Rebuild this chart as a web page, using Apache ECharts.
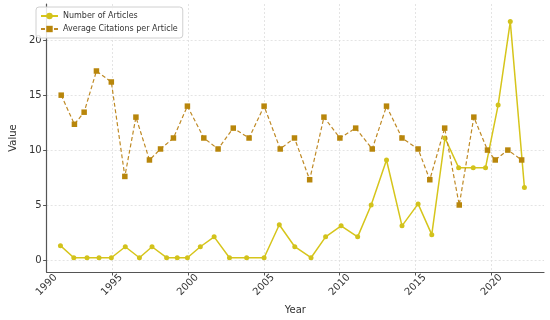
<!DOCTYPE html>
<html>
<head>
<meta charset="utf-8">
<script src="https://cdn.jsdelivr.net/npm/echarts@6/dist/echarts.min.js"></script>
<style>
  html, body { margin: 0; padding: 0; background: #fff; }
  #chart { width: 550px; height: 320px; }
</style>
</head>
<body>
<div id="chart"></div>
<script>
// ---- data ----
const articleYears = [1991.61, 1992.49, 1993.36, 1994.15, 1994.96, 1995.88, 1996.81, 1997.64, 1998.60, 1999.30,
  1999.97, 2000.82, 2001.73, 2002.74, 2003.87, 2005.02, 2006.02, 2007.04, 2008.11, 2009.07,
  2010.09, 2011.18, 2012.07, 2013.08, 2014.10, 2015.16, 2016.06, 2016.93, 2017.83, 2018.79,
  2019.60, 2020.43, 2021.23, 2022.16];
const articleCounts = [1.3, 0.2, 0.2, 0.2, 0.2, 1.2, 0.2, 1.2, 0.2, 0.2,
  0.2, 1.2, 2.1, 0.2, 0.2, 0.2, 3.2, 1.2, 0.2, 2.1,
  3.1, 2.1, 5.0, 9.1, 3.1, 5.1, 2.3, 11.1, 8.4, 8.4,
  8.4, 14.1, 21.7, 6.6];

const citationYears = [1991.66, 1992.53, 1993.17, 1993.98, 1994.96, 1995.85, 1996.58, 1997.47, 1998.20, 1999.05,
  1999.97, 2001.05, 2001.99, 2002.99, 2004.03, 2005.02, 2006.08, 2007.02, 2008.02, 2008.96,
  2010.01, 2011.05, 2012.14, 2013.08, 2014.10, 2015.16, 2015.93, 2016.91, 2017.87, 2018.83,
  2019.73, 2020.24, 2021.07, 2021.98];
const avgCitations = [15.0, 12.35, 13.45, 17.2, 16.2, 7.6, 13.0, 9.1, 10.1, 11.1,
  14.0, 11.1, 10.1, 12.0, 11.1, 14.0, 10.1, 11.1, 7.3, 13.0,
  11.1, 12.0, 10.1, 14.0, 11.1, 10.1, 7.3, 12.0, 5.0, 13.0,
  10.0, 9.1, 10.0, 9.1];

const seriesNames = ['Number of Articles', 'Average Citations per Article'];
const xTickValues = [1990, 1995, 2000, 2005, 2010, 2015, 2020];
const yTickValues = [0, 5, 10, 15, 20];
const xAxisTitle = 'Year';
const yAxisTitle = 'Value';

// ---- axis extents ----
const X_MIN = 1990.7, X_MAX = 2023.45;
const Y_MIN = -1.1, Y_MAX = 23.3;

const FONT = 'DejaVu Sans';
const chart = echarts.init(document.getElementById('chart'), null, { renderer: 'canvas' });

const zip = (xs, ys) => xs.map((x, i) => [x, ys[i]]);

chart.setOption({
  animation: false,
  backgroundColor: '#ffffff',
  textStyle: { fontFamily: FONT },
  grid: { left: 32, right: 6, top: 4, bottom: 42, containLabel: false },
  legend: {
    orient: 'vertical',
    left: 36, top: 7,
    padding: [5, 5, 5, 4],
    itemGap: 5,
    itemWidth: 17, itemHeight: 8,
    backgroundColor: 'rgba(255,255,255,0.85)',
    borderColor: '#d0d0d0', borderWidth: 1, borderRadius: 3,
    textStyle: { fontFamily: FONT, fontSize: 8, color: '#333' },
    data: seriesNames
  },
  xAxis: {
    type: 'value',
    min: X_MIN, max: X_MAX,
    name: xAxisTitle,
    nameLocation: 'middle',
    nameGap: 33,
    nameTextStyle: { fontFamily: FONT, fontSize: 10, color: '#333' },
    axisLine: { show: true, onZero: false, lineStyle: { color: '#555', width: 1.2 } },
    axisTick: { show: true, length: 3.5, lineStyle: { color: '#555' },
      customValues: xTickValues.filter(v => v >= X_MIN) },
    axisLabel: {
      customValues: xTickValues.map(v => Math.max(v, X_MIN)),
      formatter: v => String(Math.floor(v)),
      rotate: 45, align: 'center', verticalAlign: 'middle', margin: 13,
      fontFamily: FONT, fontSize: 10, color: '#333'
    },
    splitLine: { show: true, lineStyle: { color: '#dedede', type: [2, 2], width: 0.8 } }
  },
  yAxis: {
    type: 'value',
    min: Y_MIN, max: Y_MAX,
    name: yAxisTitle,
    nameLocation: 'middle',
    nameGap: 22,
    nameTextStyle: { fontFamily: FONT, fontSize: 10, color: '#333' },
    axisLine: { show: true, onZero: false, lineStyle: { color: '#555', width: 1.2 } },
    axisTick: { show: true, length: 3.5, lineStyle: { color: '#555' }, customValues: yTickValues },
    axisLabel: { customValues: yTickValues, margin: 5, fontFamily: FONT, fontSize: 10, color: '#333' },
    splitLine: { show: true, lineStyle: { color: '#dedede', type: [2, 2], width: 0.8 } }
  },
  series: [
    {
      name: seriesNames[0],
      type: 'line',
      data: zip(articleYears, articleCounts),
      symbol: 'circle', symbolSize: 5,
      lineStyle: { color: '#d6c51b', width: 1.5 },
      itemStyle: { color: '#d2c21c' },
      z: 2
    },
    {
      name: seriesNames[1],
      type: 'line',
      data: zip(citationYears, avgCitations),
      symbol: 'rect', symbolSize: 5.5,
      lineStyle: { color: '#bf8a25', width: 1.2, type: [4, 2.5] },
      itemStyle: { color: '#b8860b' },
      z: 3
    }
  ]
});
</script>
</body>
</html>
